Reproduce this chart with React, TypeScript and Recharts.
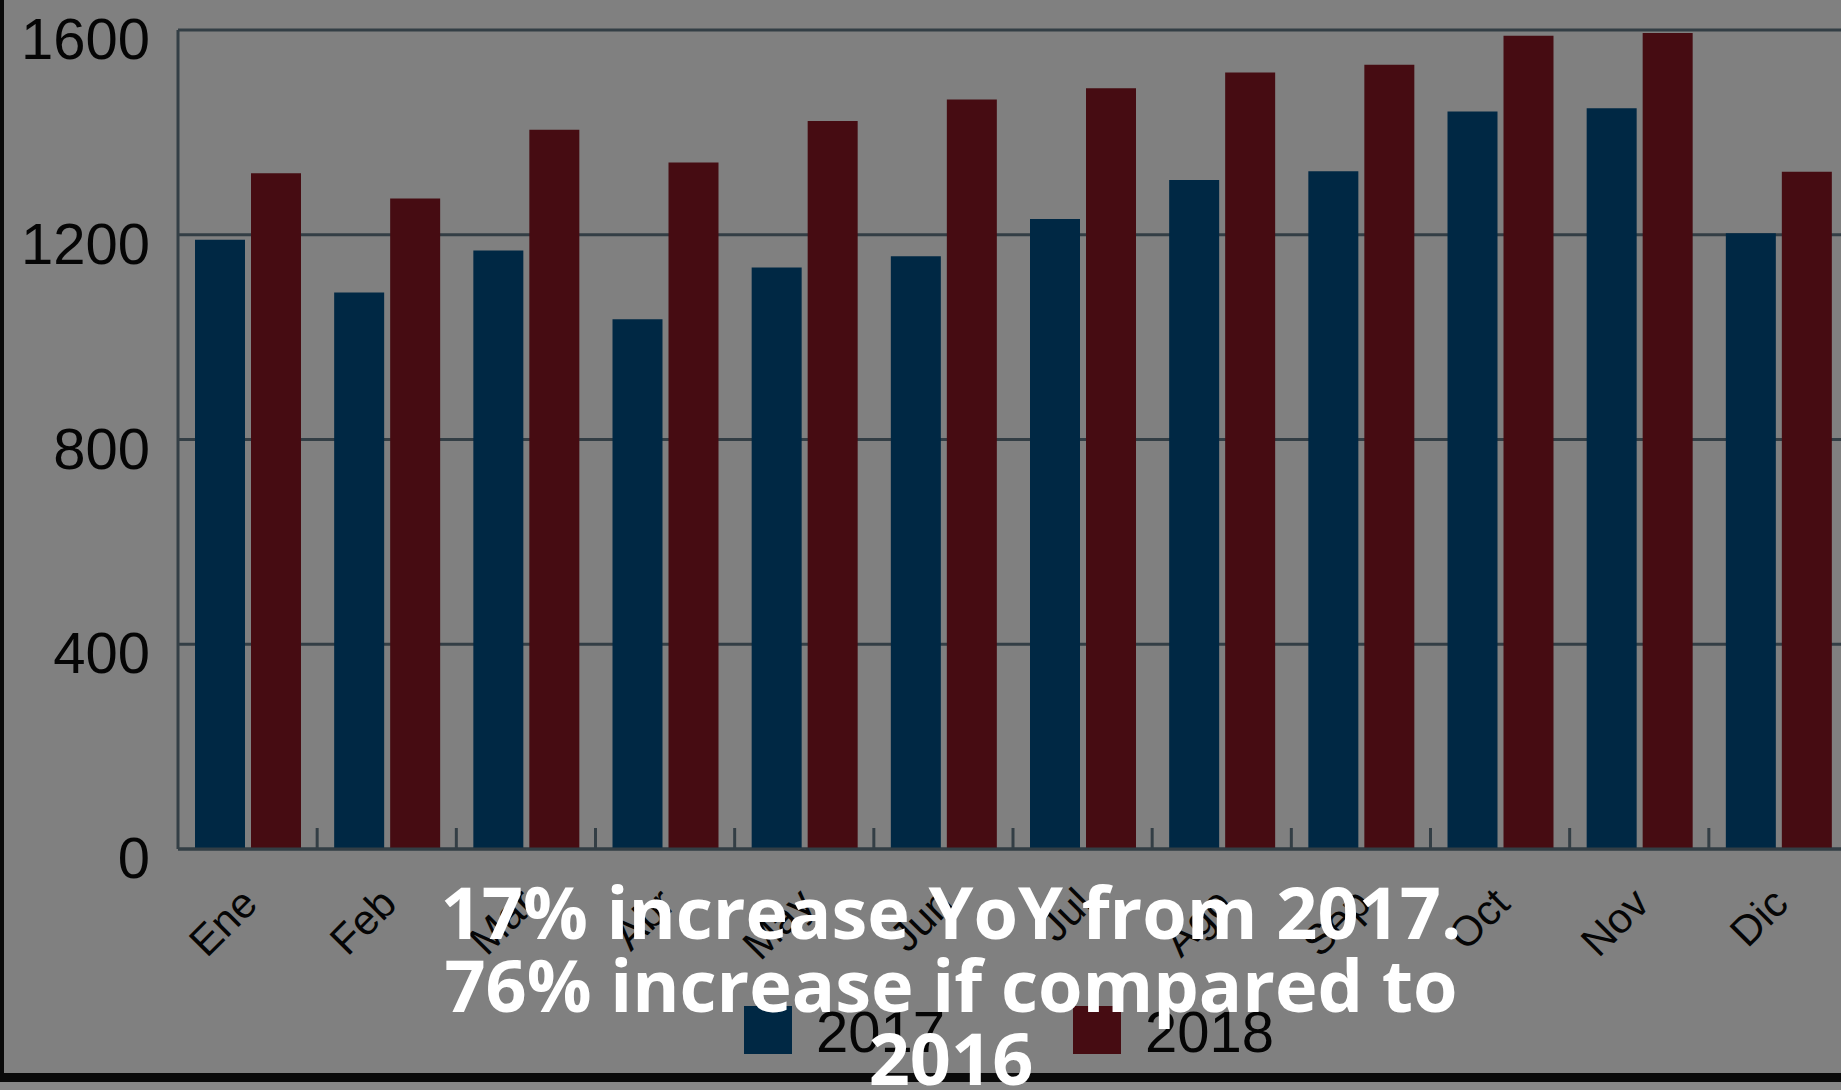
import { BarChart, Bar, XAxis, YAxis, CartesianGrid, Legend } from "recharts";

const meses = ["Ene", "Feb", "Mar", "Abr", "May", "Jun", "Jul", "Ago", "Sep", "Oct", "Nov", "Dic"];
const ventas2017 = [1190, 1087, 1169, 1035, 1136, 1158, 1231, 1307, 1324, 1441, 1447, 1203];
const ventas2018 = [1320, 1271, 1405, 1341, 1422, 1464, 1486, 1517, 1532, 1589, 1594, 1323];
const yTicks = [0, 400, 800, 1200, 1600];
const series = [
  { key: "y2017", name: "2017", color: "#002844" },
  { key: "y2018", name: "2018", color: "#460c12" },
];

const data = meses.map((mes, i) => ({ mes, y2017: ventas2017[i], y2018: ventas2018[i] }));

const FONT = "'Liberation Sans', Arial, Helvetica, sans-serif";
const LINE = "#333e45";

function YTick({ x, y, payload }: any) {
  return (
    <text x={x - 20} y={y} dy={29} textAnchor="end" fontSize={58} fontFamily={FONT} fill="#050505">
      {payload.value}
    </text>
  );
}

// etiqueta rotada + marca de separación entre meses (lado derecho de la banda)
function XTick({ x, y, payload }: any) {
  const half = payload.offset || 0;
  return (
    <g>
      <line x1={x + half} x2={x + half} y1={y} y2={y - 21} stroke={LINE} strokeWidth={3} />
      <g transform={`translate(${x + 12},${y + 57})`}>
        <text x={0} y={0} textAnchor="end" transform="rotate(-45)" fontSize={42} fontFamily={FONT} fill="#050505">
          {payload.value}
        </text>
      </g>
    </g>
  );
}

function Leyenda() {
  return (
    <div style={{ display: "flex", alignItems: "flex-start", height: 70 }}>
      {series.map((s, i) => (
        <div key={s.key} style={{ display: "flex", alignItems: "center", marginRight: i === 0 ? 128 : 0 }}>
          <div style={{ width: 48, height: 48, background: s.color, marginRight: 24 }} />
          <span style={{ fontFamily: FONT, fontSize: 58, lineHeight: "48px", color: "#050505", position: "relative", top: 2 }}>
            {s.name}
          </span>
        </div>
      ))}
    </div>
  );
}

export default function App() {
  return (
    <div
      style={{
        position: "absolute",
        left: 0,
        top: 0,
        width: 1841,
        height: 1090,
        overflow: "hidden",
        background: "#808080",
      }}
    >
      <BarChart
        width={1855}
        height={1090}
        data={data}
        margin={{ top: 30, right: 7, left: 0, bottom: 0 }}
        barGap={6}
      >
        <CartesianGrid horizontal vertical={false} stroke={LINE} strokeWidth={3} />
        <XAxis
          dataKey="mes"
          height={171}
          interval={0}
          tickSize={0}
          tickMargin={0}
          axisLine={{ stroke: LINE, strokeWidth: 3 }}
          tickLine={false}
          tick={<XTick />}
        />
        <YAxis
          width={178}
          domain={[0, 1600]}
          ticks={yTicks}
          axisLine={{ stroke: LINE, strokeWidth: 3 }}
          tickLine={false}
          tick={<YTick />}
        />
        <Legend
          verticalAlign="bottom"
          content={<Leyenda />}
          wrapperStyle={{ left: 744, top: 1006, bottom: "auto", width: 700, height: 70 }}
        />
        {series.map((s) => (
          <Bar key={s.key} dataKey={s.key} name={s.name} fill={s.color} barSize={50} isAnimationActive={false} />
        ))}
      </BarChart>
      <div style={{ position: "absolute", left: 0, top: 0, width: 4, height: 1082, background: "#0a0a0a" }} />
      <div style={{ position: "absolute", left: 0, top: 1073, width: 1841, height: 9, background: "#0a0a0a" }} />
      <div style={{ position: "absolute", left: 0, top: 1082, width: 1841, height: 8, background: "#878787" }} />
      <div
        style={{
          position: "absolute",
          left: 401,
          top: 875,
          width: 1100,
          textAlign: "center",
          fontFamily: "'Open Sans', sans-serif",
          fontWeight: 700,
          fontSize: 72,
          lineHeight: "73px",
          color: "#ffffff",
        }}
      >
        17% increase YoY from 2017. 76% increase if compared to 2016
      </div>
    </div>
  );
}
